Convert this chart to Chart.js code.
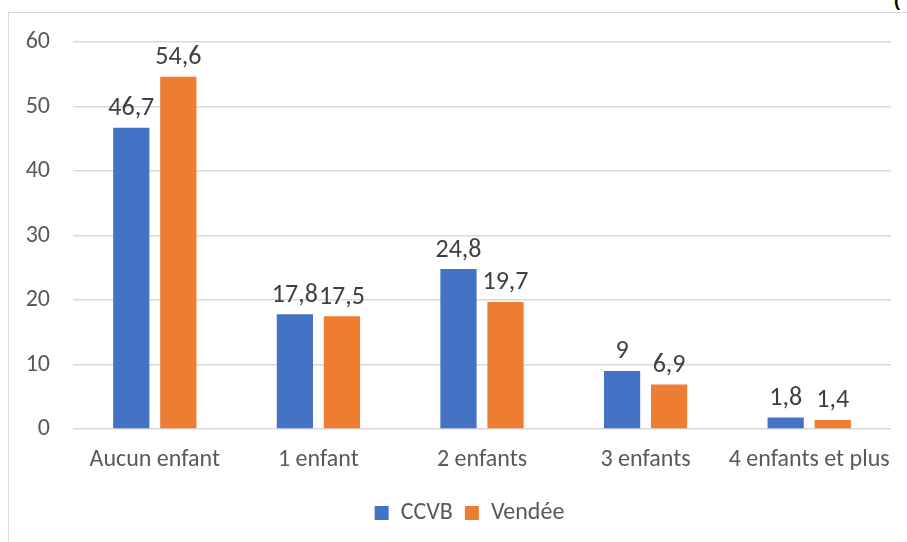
<!DOCTYPE html>
<html>
<head>
<meta charset="utf-8">
<script src="https://cdn.jsdelivr.net/npm/chart.js@4.4.0/dist/chart.umd.min.js"></script>
<style>
    html, body { margin: 0; padding: 0; background: #fff; }
    #wrap { position: relative; width: 907px; height: 542px; overflow: hidden; }
    #frame { position: absolute; left: 8px; top: 12px; width: 920px; height: 560px; border-left: 1.5px solid #d9d9d9; border-top: 1.5px solid #d9d9d9; }
    #corner { position: absolute; left: 894px; top: -10px; font: bold 18px 'Liberation Sans', sans-serif; color: #000; }
    canvas { position: absolute; left: 0; top: 0; }
</style>
</head>
<body>
<div id="wrap">
    <div id="frame"></div>
    <div id="corner">(</div>
    <canvas id="chart" width="907" height="542"></canvas>
</div>
<script>
// chart data
const categories = ['Aucun enfant', '1 enfant', '2 enfants', '3 enfants', '4 enfants et plus']
const ccvb = [46.7, 17.8, 24.8, 9, 1.8]
const vendee = [54.6, 17.5, 19.7, 6.9, 1.4]
const yTicks = [0, 10, 20, 30, 40, 50, 60]

const fontFamily = "Carlito, Lato, 'Open Sans', sans-serif"

// draws the value above each bar, with a french decimal comma
const valueLabels = {
    id: 'valueLabels',
    afterDatasetsDraw(chart) {
        const ctx = chart.ctx
        ctx.save()
        ctx.font = `26px ${fontFamily}`
        ctx.fillStyle = '#404040'
        ctx.textAlign = 'center'
        ctx.textBaseline = 'bottom'
        chart.data.datasets.forEach((ds, i) => {
            chart.getDatasetMeta(i).data.forEach((bar, j) => {
                ctx.fillText(String(ds.data[j]).replace('.', ','), bar.x, bar.y - 6)
            })
        })
        ctx.restore()
    }
}

// nudge the legend right so it sits under the plot like the original
const legendShift = {
    id: 'legendShift',
    afterLayout(chart) {
        chart.legend.left += 24
        chart.legend.right += 24
    }
}

new Chart(document.getElementById('chart'), {
    type: 'bar',
    data: {
        labels: categories,
        datasets: [
            { label: 'CCVB', data: ccvb, backgroundColor: '#4472c4', categoryPercentage: 0.575, barPercentage: 0.77 },
            { label: 'Vendée', data: vendee, backgroundColor: '#ed7d31', categoryPercentage: 0.575, barPercentage: 0.77 }
        ]
    },
    options: {
        responsive: false,
        animation: false,
        layout: { padding: { top: 42, right: 16, bottom: 7, left: 0 } },
        plugins: {
            legend: {
                position: 'bottom',
                labels: {
                    boxWidth: 14,
                    boxHeight: 14,
                    padding: 12,
                    color: '#595959',
                    font: { size: 24, family: fontFamily }
                }
            },
            tooltip: { enabled: false }
        },
        scales: {
            x: {
                afterFit: scale => { scale.height = 60 },
                grid: { display: false },
                border: { display: false },
                ticks: { color: '#595959', padding: 9, maxRotation: 0, autoSkip: false, font: { size: 24, family: fontFamily } }
            },
            y: {
                min: 0,
                max: 60,
                afterFit: scale => { scale.width = 73 },
                afterBuildTicks: scale => { scale.ticks = yTicks.map(v => ({ value: v })) },
                grid: { color: '#d9d9d9', lineWidth: 1.5, drawTicks: false },
                border: { display: false },
                ticks: { color: '#595959', padding: 23, font: { size: 24, family: fontFamily } }
            }
        }
    },
    plugins: [valueLabels, legendShift]
})
</script>
</body>
</html>
